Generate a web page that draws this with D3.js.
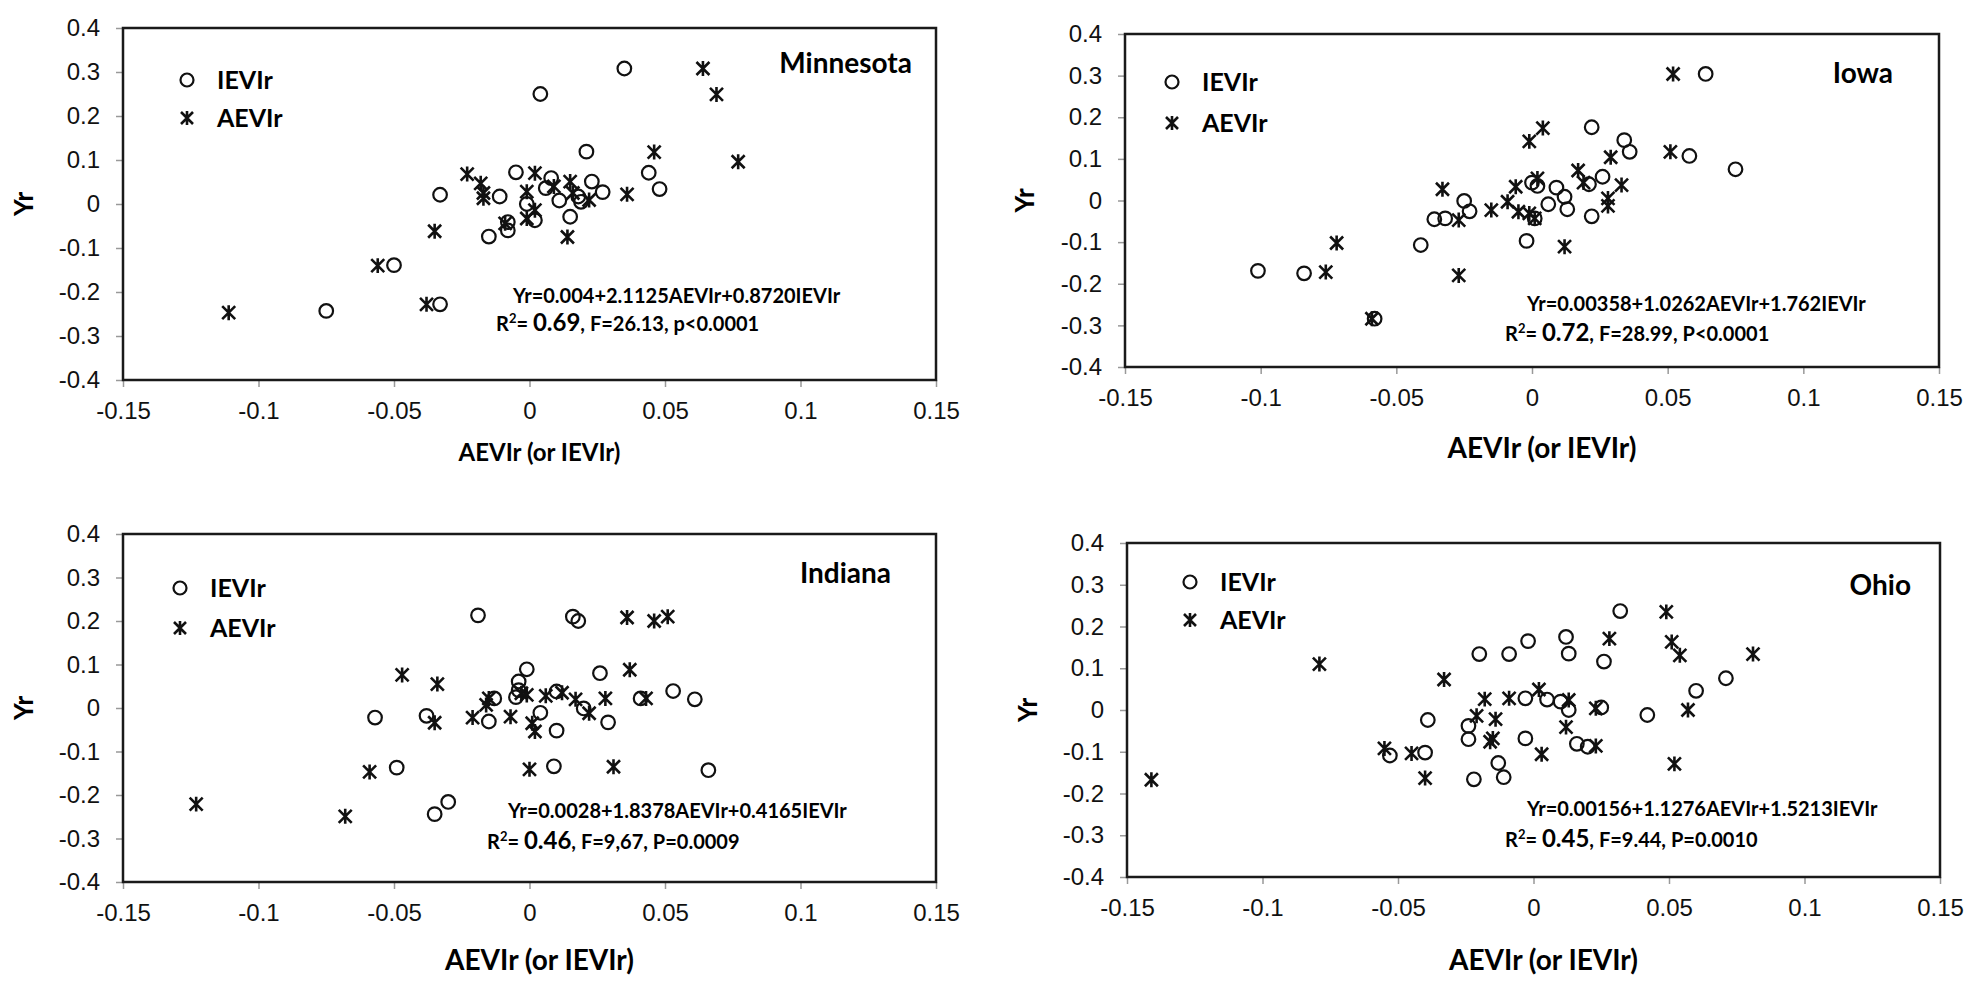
<!DOCTYPE html>
<html>
<head>
<meta charset="utf-8">
<script src="https://cdn.jsdelivr.net/npm/d3@7/dist/d3.min.js"></script>
<style>
	body { margin: 0; background: #fff; }
	svg { display: block; font-family: Lato, "Open Sans", sans-serif; }
	.tick text { font-size: 24px; fill: #111; }
	.tick line { stroke: #999; stroke-width: 1.5; }
</style>
</head>
<body>
<div class="chart"></div>
<script>
const width = 1978;
const height = 982;

const xTicks = [-0.15, -0.1, -0.05, 0, 0.05, 0.1, 0.15];
const yTicks = [-0.4, -0.3, -0.2, -0.1, 0, 0.1, 0.2, 0.3, 0.4];
const seriesNames = ["IEVIr", "AEVIr"];
const states = ["Minnesota", "Iowa", "Indiana", "Ohio"];
const equations = [
	"Yr=0.004+2.1125AEVIr+0.8720IEVIr",
	"Yr=0.00358+1.0262AEVIr+1.762IEVIr",
	"Yr=0.0028+1.8378AEVIr+0.4165IEVIr",
	"Yr=0.00156+1.1276AEVIr+1.5213IEVIr"
];
const rSquared = ["0.69", "0.72", "0.46", "0.45"];
const fitRest = [", F=26.13, p<0.0001", ", F=28.99, P<0.0001", ", F=9,67, P=0.0009", ", F=9.44, P=0.0010"];

// Minnesota
const mnIEVIr = [[0.035,0.308],[0.004,0.25],[0.021,0.119],[0.044,0.071],[0.048,0.034],[0.023,0.051],[0.027,0.027],
	[-0.005,0.072],[0.008,0.059],[-0.033,0.021],[-0.011,0.017],[-0.001,0.0],[0.011,0.008],[0.006,0.036],[0.015,-0.029],
	[0.002,-0.037],[-0.008,-0.041],[-0.008,-0.06],[-0.015,-0.074],[-0.05,-0.139],[-0.033,-0.228],[-0.075,-0.243],
	[0.019,0.005],[0.018,0.017]];
const mnAEVIr = [[0.064,0.308],[0.069,0.249],[0.077,0.096],[0.046,0.118],[0.036,0.022],[-0.023,0.068],[-0.018,0.047],
	[-0.017,0.025],[-0.017,0.013],[0.002,0.07],[-0.001,0.028],[0.015,0.051],[0.009,0.04],[0.022,0.009],[-0.035,-0.062],
	[0.014,-0.075],[-0.001,-0.033],[0.002,-0.014],[-0.009,-0.044],[-0.056,-0.14],[-0.038,-0.228],[-0.111,-0.247],[0.016,0.025]];

// Iowa
const iaIEVIr = [[0.064,0.304],[0.022,0.176],[0.034,0.145],[0.036,0.117],[0.058,0.107],[0.075,0.075],[0.026,0.057],
	[0.021,0.039],[0.009,0.031],[0.012,0.009],[0.006,-0.009],[0.013,-0.021],[0.022,-0.038],[0.0,0.043],[0.002,0.035],
	[-0.025,-0.001],[-0.023,-0.026],[-0.036,-0.045],[-0.032,-0.043],[-0.041,-0.107],[-0.002,-0.097],[-0.101,-0.169],
	[-0.084,-0.175],[-0.058,-0.284],[0.001,-0.043]];
const iaAEVIr = [[0.052,0.304],[0.004,0.174],[-0.001,0.142],[0.051,0.117],[0.029,0.104],[0.017,0.072],[0.019,0.043],
	[0.033,0.037],[0.028,0.005],[0.028,-0.013],[-0.006,0.033],[0.002,0.053],[-0.009,-0.003],[-0.005,-0.027],[0.001,-0.043],
	[-0.015,-0.023],[-0.027,-0.047],[-0.033,0.027],[-0.072,-0.102],[-0.076,-0.172],[-0.027,-0.18],[-0.059,-0.284],
	[0.012,-0.111],[-0.001,-0.031]];

// Indiana
const inIEVIr = [[-0.019,0.213],[0.016,0.21],[0.018,0.2],[-0.001,0.089],[0.026,0.08],[-0.004,0.061],[-0.004,0.041],
	[-0.005,0.025],[0.01,0.038],[0.053,0.039],[0.061,0.02],[0.041,0.022],[0.02,-0.001],[0.004,-0.011],[0.029,-0.033],
	[0.01,-0.052],[-0.015,-0.031],[-0.038,-0.018],[-0.057,-0.022],[-0.049,-0.137],[0.009,-0.134],[0.066,-0.143],
	[-0.03,-0.216],[-0.035,-0.244],[-0.013,0.022]];
const inAEVIr = [[0.036,0.208],[0.046,0.2],[0.051,0.21],[0.037,0.088],[-0.047,0.076],[-0.034,0.055],[-0.015,0.022],
	[-0.016,0.007],[-0.035,-0.034],[-0.021,-0.022],[-0.007,-0.02],[-0.001,0.03],[0.006,0.028],[0.012,0.035],[0.017,0.02],
	[0.022,-0.012],[0.028,0.022],[0.043,0.022],[0.001,-0.035],[0.002,-0.054],[0.0,-0.141],[0.031,-0.135],[-0.059,-0.147],
	[-0.068,-0.249],[-0.123,-0.221],[-0.003,0.034]];

// Ohio
const ohIEVIr = [[0.032,0.237],[0.012,0.175],[-0.002,0.165],[0.013,0.135],[-0.02,0.134],[-0.009,0.134],[0.026,0.116],
	[0.071,0.076],[0.06,0.046],[-0.003,0.028],[0.005,0.025],[0.01,0.02],[0.013,0.0],[0.025,0.006],[0.042,-0.012],
	[-0.039,-0.024],[-0.024,-0.038],[-0.024,-0.07],[-0.003,-0.068],[0.016,-0.081],[0.02,-0.088],[-0.04,-0.102],
	[-0.053,-0.109],[-0.013,-0.127],[-0.011,-0.161],[-0.022,-0.166]];
const ohAEVIr = [[0.049,0.235],[0.051,0.163],[0.054,0.131],[0.028,0.171],[0.081,0.134],[-0.079,0.11],[-0.033,0.073],
	[0.002,0.049],[-0.018,0.026],[-0.009,0.028],[0.013,0.024],[0.023,0.004],[0.057,0.0],[-0.021,-0.014],[-0.014,-0.022],
	[-0.015,-0.068],[-0.016,-0.076],[0.012,-0.041],[0.003,-0.106],[0.023,-0.086],[-0.055,-0.092],[-0.045,-0.104],
	[-0.04,-0.163],[0.052,-0.129],[-0.141,-0.167]];

const pointSets = [[mnIEVIr, mnAEVIr], [iaIEVIr, iaAEVIr], [inIEVIr, inAEVIr], [ohIEVIr, ohAEVIr]];

// plot frames and label spots
const layout = [
	{ x0: 123, x1: 936, y0: 28, y1: 380, yLab: 24, xLabY: 461, xLabSize: 24, name: [912, 73], leg: [187, 80, 118], eq: [513, 303, 496, 331] },
	{ x0: 1125, x1: 1939, y0: 34, y1: 367, yLab: 1025, xLabY: 458, xLabSize: 28, name: [1893, 83], leg: [1172, 82, 123], eq: [1527, 311, 1505, 341] },
	{ x0: 123, x1: 936, y0: 534, y1: 882, yLab: 24, xLabY: 970, xLabSize: 28, name: [891, 583], leg: [180, 588, 628], eq: [508, 818, 487, 849] },
	{ x0: 1127, x1: 1940, y0: 543, y1: 877, yLab: 1028, xLabY: 970, xLabSize: 28, name: [1911, 595], leg: [1190, 582, 620], eq: [1527, 816, 1505, 847] }
];

const starPath = s => `M${-s},${-s}L${s},${s}M${s},${-s}L${-s},${s}M0,${-s * 1.15}L0,${s * 1.15}`;

const svg = d3.select(".chart")
	.append("svg")
	.attr("width", width)
	.attr("height", height);

svg.append("rect")
	.attr("width", width)
	.attr("height", height)
	.attr("fill", "#fff");

const render = (i) => {
	const p = layout[i];
	const x = d3.scaleLinear().domain([-0.15, 0.15]).range([p.x0, p.x1]);
	const y = d3.scaleLinear().domain([-0.4, 0.4]).range([p.y1, p.y0]);
	const g = svg.append("g").attr("class", "panel");

	g.append("g")
		.attr("transform", `translate(0,${p.y1})`)
		.call(d3.axisBottom(x).tickValues(xTicks).tickFormat(d => String(d)).tickSize(7).tickSizeOuter(0).tickPadding(15))
		.call(a => a.select(".domain").remove());

	g.append("g")
		.attr("transform", `translate(${p.x0},0)`)
		.call(d3.axisLeft(y).tickValues(yTicks).tickFormat(d => String(d)).tickSize(7).tickSizeOuter(0).tickPadding(16))
		.call(a => a.select(".domain").remove());

	g.append("rect")
		.attr("x", p.x0)
		.attr("y", p.y0)
		.attr("width", p.x1 - p.x0)
		.attr("height", p.y1 - p.y0)
		.attr("fill", "none")
		.attr("stroke", "#1a1a1a")
		.attr("stroke-width", 2.5);

	const [iev, aev] = pointSets[i];

	g.selectAll(".dot")
		.data(iev)
		.enter()
		.append("circle")
		.attr("class", "dot")
		.attr("cx", d => x(d[0]))
		.attr("cy", d => y(d[1]))
		.attr("r", 6.8)
		.attr("fill", "none")
		.attr("stroke", "#111")
		.attr("stroke-width", 2.2);

	g.selectAll(".star")
		.data(aev)
		.enter()
		.append("path")
		.attr("class", "star")
		.attr("transform", d => `translate(${x(d[0])},${y(d[1])})`)
		.attr("d", starPath(6.5))
		.attr("fill", "none")
		.attr("stroke", "#111")
		.attr("stroke-width", 2.6);

	// legend
	g.append("circle")
		.attr("cx", p.leg[0])
		.attr("cy", p.leg[1])
		.attr("r", 6.5)
		.attr("fill", "none")
		.attr("stroke", "#111")
		.attr("stroke-width", 2.2);
	g.append("path")
		.attr("transform", `translate(${p.leg[0]},${p.leg[2]})`)
		.attr("d", starPath(6))
		.attr("fill", "none")
		.attr("stroke", "#111")
		.attr("stroke-width", 2.6);
	g.selectAll(".legend")
		.data(seriesNames)
		.enter()
		.append("text")
		.attr("class", "legend")
		.attr("x", p.leg[0] + 30)
		.attr("y", (d, k) => p.leg[k + 1])
		.attr("dy", ".35em")
		.style("font-size", "25px")
		.style("font-weight", "bold")
		.text(d => d);

	g.append("text")
		.attr("x", p.name[0])
		.attr("y", p.name[1])
		.style("text-anchor", "end")
		.style("font-size", "28px")
		.style("font-weight", "bold")
		.text(states[i]);

	g.append("text")
		.attr("x", p.eq[0])
		.attr("y", p.eq[1])
		.style("font-size", "20px")
		.style("font-weight", "bold")
		.text(equations[i]);

	const fit = g.append("text")
		.attr("x", p.eq[2])
		.attr("y", p.eq[3])
		.style("font-size", "20px")
		.style("font-weight", "bold");
	fit.append("tspan").text("R");
	fit.append("tspan").attr("dy", -8).style("font-size", "13px").text("2");
	fit.append("tspan").attr("dy", 8).text("= ");
	fit.append("tspan").style("font-size", "24px").text(rSquared[i]);
	fit.append("tspan").text(fitRest[i]);

	g.append("text")
		.attr("x", (p.x0 + p.x1) / 2 + 10)
		.attr("y", p.xLabY)
		.style("text-anchor", "middle")
		.style("font-size", p.xLabSize + "px")
		.style("font-weight", "bold")
		.text("AEVIr (or IEVIr)");

	g.append("text")
		.attr("transform", `translate(${p.yLab + 9},${(p.y0 + p.y1) / 2}) rotate(-90)`)
		.style("text-anchor", "middle")
		.style("font-size", "26px")
		.style("font-weight", "bold")
		.text("Yr");
};

states.forEach((s, i) => render(i));
</script>
</body>
</html>
